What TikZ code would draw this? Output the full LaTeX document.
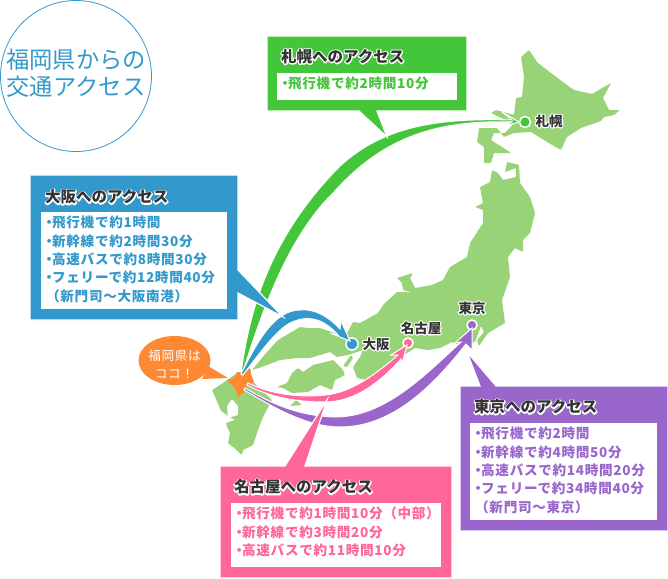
\documentclass[tikz,border=0pt]{standalone}
\usepackage{fontspec}
\newfontfamily\jpfont[LetterSpace=5]{Noto Sans CJK JP}
\newfontfamily\headfont{Noto Sans CJK JP}
\newcommand{\halotext}[1]{\rlap{\special{pdf:code q 1 1 1 rg 1 1 1 RG 2.4 w 1 j 2 Tr}#1\special{pdf:code Q}}#1}
\newcommand{\nakaten}{\hspace{-.28em}・\hspace{-.28em}}

\begin{document}
\begin{tikzpicture}[x=1pt,y=-1pt]
%% Colors
\definecolor{osakaCol}{HTML}{3399CC}
\definecolor{sapporoCol}{HTML}{44C63B}
\definecolor{nagoyaCol}{HTML}{FF6699}
\definecolor{tokyoCol}{HTML}{9966CC}
\definecolor{landCol}{HTML}{99D377}
\definecolor{fukuokaCol}{HTML}{FF8833}
\definecolor{inkCol}{HTML}{333333}
%% Styles
\tikzset{
land/.style = {fill=landCol,rounded corners=0.8pt},
route/.style = {fill=#1,draw=white,line width=1pt},
balloon/.style = {fill=#1,draw=white,line width=1.2pt},
inner/.style = {fill=white},
spot/.style = {fill=#1,draw=white,line width=1.5pt},
head/.style = {font=\headfont\bfseries\fontsize{15.5}{18}\selectfont,text=inkCol,anchor=west,inner sep=0pt},
body/.style = {font=\jpfont\bfseries\fontsize{13.6}{18.3}\selectfont,text=#1,anchor=north west,align=left,inner sep=0pt},
place/.style = {font=\headfont\bfseries\fontsize{13.5}{15}\selectfont,text=inkCol,inner sep=0pt},
}
\useasboundingbox (0,0) rectangle (668,578);

%% Title circle
\path[draw=osakaCol,line width=0.8pt] (76,76) circle (75.5);
\node[font=\headfont\fontsize{23.3}{27}\selectfont,text=osakaCol,align=center,inner sep=0pt] (titleText) at (76,73.5) {福岡県からの\\交通アクセス};

%% Map
\path[land] (521,57) -- (529,50) -- (537,62) -- (551,73) -- (567,85) -- (574,90) -- (592,94) -- (602,88) -- (611,83) -- (603,98) -- (609,110) -- (620,110) -- (614,115) -- (604,117) -- (601,121) -- (581,128) -- (567,137) -- (561,150) -- (547,142) -- (531,132) -- (514,133) -- (504,137) -- (497,128) -- (479,128) -- (477,142) -- (484,147) -- (484,163) -- (491,163) -- (494,153) -- (511,153) -- (499,145) -- (491,140) -- (494,133) -- (505,133) -- (514,123) -- (499,117) -- (491,113) -- (496,110) -- (514,115) -- (516,98) -- (522,97) -- (524,77) -- cycle;
\path[land] (492,170) -- (498,173) -- (503,180) -- (516,177) -- (516,168) -- (505,172) -- (507,162) -- (519,165) -- (520,183) -- (530,197) -- (535,213) -- (530,233) -- (523,240) -- (523,252) -- (515,248) -- (508,257) -- (510,277) -- (502,300) -- (505,323) -- (488,333) -- (479,346) -- (477,340) -- (484,332) -- (481,326) -- (475,342) -- (460,345) -- (452,342) -- (440,348) -- (428,350) -- (415,348) -- (407,353) -- (397,358) -- (387,370) -- (370,381) -- (357,378) -- (353,367) -- (360,357) -- (363,350) -- (348,355) -- (337,357) -- (330,352) -- (310,358) -- (297,358) -- (280,360) -- (262,367) -- (252,370) -- (267,352) -- (278,340) -- (300,327) -- (308,328) -- (320,328) -- (332,332) -- (345,337) -- (353,322) -- (360,323) -- (378,313) -- (383,305) -- (397,292) -- (405,292) -- (413,293) -- (403,290) -- (402,283) -- (397,278) -- (413,273) -- (410,278) -- (415,288) -- (432,285) -- (443,280) -- (450,267) -- (467,257) -- (470,243) -- (483,223) -- (483,210) -- (475,207) -- (483,203) -- (480,187) -- (490,182) -- cycle;
\path[land] (277,387) -- (287,383) -- (292,373) -- (298,368) -- (303,372) -- (313,365) -- (333,360) -- (343,370) -- (345,375) -- (335,380) -- (332,390) -- (320,385) -- (308,392) -- (292,393) -- (283,388) -- cycle;
\path[land] (250,368) -- (253,382) -- (272,400) -- (263,417) -- (258,430) -- (253,445) -- (243,450) -- (242,455) -- (233,447) -- (228,443) -- (230,433) -- (227,427) -- (226,423) -- (235,420) -- (230,417) -- (221,411) -- (216,399) -- (212,390) -- (223,383) -- (230,378) -- (237,373) -- cycle;
\path[fill=white,rounded corners=1pt] (232,399) -- (238,406) -- (238,415) -- (228,418) -- (227,406) -- cycle;
\path[land] (290,406) -- (296,400) -- (302,405) -- cycle;
\path[land] (343,366) -- (351,355) -- (353,358) -- (347,367) -- cycle;
\path[fill=fukuokaCol] (250,368) -- (251,375) -- (254,382) -- (247,385) -- (244,392) -- (238,397) -- (235,388) -- (227,380) -- (234,378) -- (237,372) -- (241,372) -- (245,373) -- cycle;

%% Spots
\path[spot=sapporoCol] (525,122) circle (5.5);
\path[spot=osakaCol] (352,344) circle (6);
\path[spot=nagoyaCol] (408,343) circle (5);
\path[spot=tokyoCol] (472,325) circle (5);

%% Routes
\path[route=sapporoCol] (241,374) .. controls (250,305) and (272,235) .. (340,166) .. controls (385,125) and (440,118) .. (512,120) -- (502,112) -- (519,122) -- (502,127) -- (512,122) .. controls (440,120) and (385,135) .. (334,192) .. controls (295,230) and (268,290) .. (242,375) -- cycle;
\path[route=tokyoCol] (245,388) .. controls (265,400) and (295,416) .. (335,417) .. controls (385,417) and (425,375) .. (461,342) -- (455,343) -- (472,328) -- (472,350) -- (466,344) .. controls (430,390) and (390,427) .. (340,427) .. controls (305,427) and (270,405) .. (244,390) -- cycle;
\path[route=nagoyaCol] (248,383) .. controls (270,394) and (300,398) .. (325,395) .. controls (350,393) and (375,375) .. (398,355) -- (391,355) -- (407,345) -- (402,364) -- (401,359) .. controls (375,388) and (350,402) .. (325,402) .. controls (295,402) and (270,397) .. (247,385) -- cycle;
\path[route=osakaCol] (241,374) .. controls (258,340) and (275,310) .. (300,310) .. controls (315,308) and (330,318) .. (340,329) -- (341,321) -- (350,341) -- (330,333) -- (338,335) .. controls (325,320) and (310,315) .. (295,321) .. controls (280,325) and (262,350) .. (243,375) -- cycle;

%% Callouts
\path[balloon=sapporoCol] (267,36) -- (467,36) -- (467,111) -- (377,111) -- (387,137) -- (359,111) -- (267,111) -- cycle;
\path[balloon=osakaCol] (30,175) -- (238,175) -- (238,270) -- (283,317) -- (238,293) -- (238,320) -- (30,320) -- cycle;
\path[balloon=nagoyaCol] (220,466) -- (285,466) -- (327,400) -- (305,466) -- (452,466) -- (452,578) -- (220,578) -- cycle;
\path[balloon=tokyoCol] (460,386) -- (480,386) -- (467,352) -- (496,386) -- (668,386) -- (668,531) -- (460,531) -- cycle;
\path[inner] (277,73) rectangle (457,100);
\path[inner] (41,212) rectangle (227,309);
\path[inner] (231,503) rectangle (441,567);
\path[inner] (470,423) rectangle (657,520);

%% Callout texts
\node[head] (sapporoHead) at (281,56.5) {\halotext{札幌へのアクセス}};
\node[body=sapporoCol] (sapporoBody) at (282,77) {\nakaten 飛行機で約2時間10分};
\node[head] (osakaHead) at (45,197) {\halotext{大阪へのアクセス}};
\node[body=osakaCol] (osakaBody) at (46,216) {\nakaten 飛行機で約1時間\\\nakaten 新幹線で約2時間30分\\\nakaten 高速バスで約8時間30分\\\nakaten フェリーで約12時間40分\\（新門司〜大阪南港）};
\node[head] (nagoyaHead) at (234,487) {\halotext{名古屋へのアクセス}};
\node[body=nagoyaCol] (nagoyaBody) at (236,507) {\nakaten 飛行機で約1時間10分（中部）\\\nakaten 新幹線で約3時間20分\\\nakaten 高速バスで約11時間10分};
\node[head] (tokyoHead) at (474,407) {\halotext{東京へのアクセス}};
\node[body=tokyoCol] (tokyoBody) at (475,427) {\nakaten 飛行機で約2時間\\\nakaten 新幹線で約4時間50分\\\nakaten 高速バスで約14時間20分\\\nakaten フェリーで約34時間40分\\（新門司〜東京）};

%% Place names
\node[place] (sapporoName) at (549,121) {\halotext{札幌}};
\node[place] (osakaName) at (376,344) {\halotext{大阪}};
\node[place] (nagoyaName) at (421,328) {\halotext{名古屋}};
\node[place] (tokyoName) at (472,308) {\halotext{東京}};

%% Fukuoka balloon
\path[fill=fukuokaCol] (208,366) -- (228,378) -- (202,379) -- cycle;
\path[fill=fukuokaCol] (174.5,360.5) ellipse (36 and 24.5);
\node[font=\jpfont\fontsize{12.6}{18}\selectfont,text=white,align=center,inner sep=0pt] (fukuokaText) at (174.5,364) {福岡県は\\ココ！};
\end{tikzpicture}
\end{document}
